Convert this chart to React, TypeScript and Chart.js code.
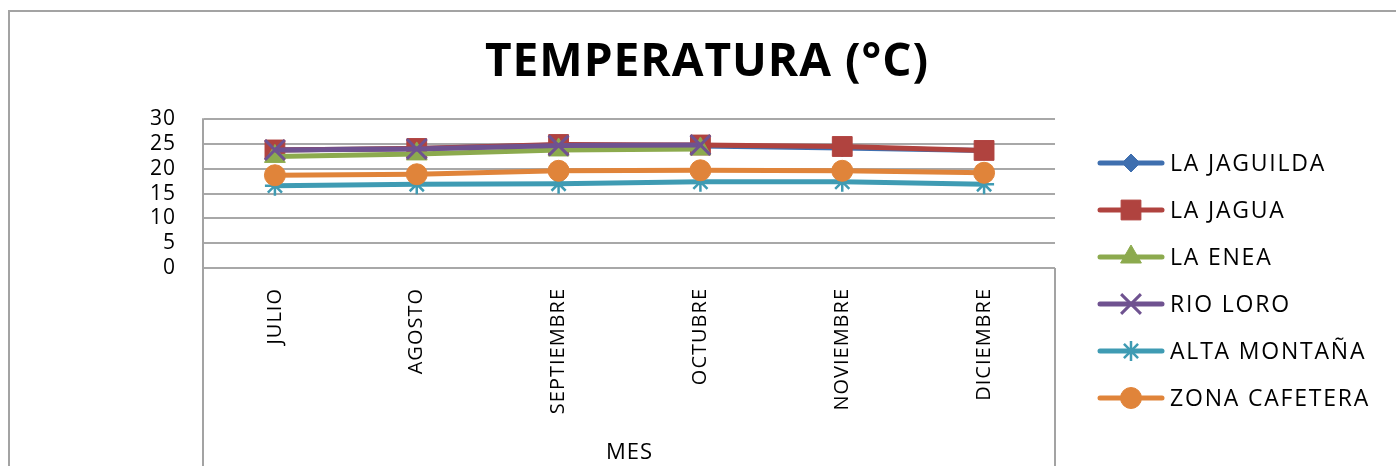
import React, { useEffect, useRef } from "react";
import { Chart, registerables } from "chart.js";
import { drawPoint } from "chart.js/helpers";

Chart.register(...registerables);

const categories = ["JULIO", "AGOSTO", "SEPTIEMBRE", "OCTUBRE", "NOVIEMBRE", "DICIEMBRE"];
const laJaguilda = [23.8, 24.1, 24.8, 24.6, 24.2, 23.7];
const laJagua = [23.8, 24.1, 24.9, 24.8, 24.5, 23.7];
const laEnea = [22.5, 23.0, 23.8, 24.0, null, null];
const rioLoro = [23.8, 24.0, 24.7, 24.8, null, null];
const altaMontana = [16.6, 16.9, 17.0, 17.4, 17.4, 16.9];
const zonaCafetera = [18.7, 18.9, 19.6, 19.7, 19.6, 19.2];
const seriesNames = ["LA JAGUILDA", "LA JAGUA", "LA ENEA", "RIO LORO", "ALTA MONTAÑA", "ZONA CAFETERA"];
const yTicks = [0, 5, 10, 15, 20, 25, 30];
const chartTitle = "TEMPERATURA (°C)";
const xTitle = "MES";

const colors = ["#3F6FAF", "#B0433F", "#8CAA4E", "#6F5290", "#3F9BB3", "#E0843A"];
const styles = ["rectRot", "rect", "triangle", "crossRot", "star", "circle"];
const radii = [9, 14, 12, 14, 10, 10.5];
const borderW = [1, 1, 1, 3, 2.5, 1];

const FONT = "'Open Sans', 'DejaVu Sans', sans-serif";

const spacingPlugin = {
  id: "spacing",
  beforeUpdate(chart: any) {
    chart.ctx.letterSpacing = "1px";
  },
  beforeLayout(chart: any) {
    chart.ctx.letterSpacing = "1px";
  },
  beforeDraw(chart: any) {
    chart.ctx.letterSpacing = "1px";
  },
};

const framePlugin = {
  id: "frame",
  afterDraw(chart: any) {
    const { ctx, chartArea, height, width } = chart;
    ctx.save();
    ctx.strokeStyle = "#A3A3A3";
    ctx.lineWidth = 2;
    // outer chart border
    ctx.beginPath();
    ctx.moveTo(9, height + 2);
    ctx.lineTo(9, 11);
    ctx.lineTo(width + 2, 11);
    ctx.stroke();
    // plot area border
    ctx.beginPath();
    ctx.moveTo(chartArea.left - 1, chartArea.top - 1);
    ctx.lineTo(chartArea.left - 1, height + 2);
    ctx.moveTo(chartArea.right, chartArea.bottom);
    ctx.lineTo(chartArea.right, height + 2);
    ctx.stroke();
    // legend
    const lx0 = 1100;
    const lx1 = 1162;
    const ly0 = 163;
    const step = 47;
    chart.data.datasets.forEach((ds: any, i: number) => {
      const y = ly0 + i * step;
      ctx.strokeStyle = ds.borderColor;
      ctx.lineWidth = 5;
      ctx.lineCap = "round";
      ctx.beginPath();
      ctx.moveTo(lx0, y);
      ctx.lineTo(lx1, y);
      ctx.stroke();
      ctx.fillStyle = ds.pointBackgroundColor;
      ctx.strokeStyle = ds.pointBorderColor;
      ctx.lineWidth = ds.pointBorderWidth;
      ctx.lineCap = "butt";
      drawPoint(ctx, { pointStyle: ds.pointStyle, radius: ds.pointRadius, rotation: 0, borderWidth: ds.pointBorderWidth } as any, (lx0 + lx1) / 2, y);
      ctx.fillStyle = "#000";
      ctx.font = `23px ${FONT}`;
      ctx.letterSpacing = "1.8px";
      ctx.textBaseline = "middle";
      ctx.textAlign = "left";
      ctx.fillText(ds.label, 1170, y + 1);
    });
    ctx.restore();
  },
};

export default function App() {
  const ref = useRef<HTMLCanvasElement>(null);
  useEffect(() => {
    const all = [laJaguilda, laJagua, laEnea, rioLoro, altaMontana, zonaCafetera];
    const chart = new Chart(ref.current!, {
      type: "line",
      data: {
        labels: categories,
        datasets: all.map((d, i) => ({
          label: seriesNames[i],
          data: d,
          borderColor: colors[i],
          backgroundColor: colors[i],
          borderWidth: 5,
          pointStyle: styles[i] as any,
          pointRadius: radii[i],
          pointHoverRadius: radii[i],
          pointBackgroundColor: colors[i],
          pointBorderColor: colors[i],
          pointBorderWidth: borderW[i],
          tension: 0,
          spanGaps: false,
          order: all.length - i,
          fill: false,
        })),
      },
      options: {
        animation: false,
        responsive: false,
        events: [],
        layout: { padding: { left: 18, right: 0, top: 0, bottom: 0 } },
        plugins: {
          legend: { display: false },
          tooltip: { enabled: false },
          title: {
            display: true,
            text: chartTitle,
            color: "#000",
            font: { family: FONT, size: 46, weight: "bold" },
            padding: { top: 35, bottom: 29 },
          },
        },
        scales: {
          x: {
            type: "category",
            offset: true,
            grid: { display: false, drawTicks: false },
            border: { display: false },
            ticks: {
              color: "#000",
              font: { family: FONT, size: 20 },
              minRotation: 90,
              maxRotation: 90,
              autoSkip: false,
              padding: 20,
            },
            title: {
              display: true,
              text: xTitle,
              color: "#000",
              font: { family: FONT, size: 22 },
              padding: { top: 0, bottom: 0 },
            },
            afterFit: (s: any) => {
              s.height = 198;
            },
          },
          y: {
            min: 0,
            max: 30,
            afterBuildTicks: (s: any) => {
              s.ticks = yTicks.map((v) => ({ value: v }));
            },
            grid: { color: "#A8A8A8", lineWidth: 2, drawTicks: false },
            border: { display: false },
            ticks: {
              color: "#000",
              font: { family: FONT, size: 21 },
              padding: 28,
              autoSkip: false,
            },
            afterFit: (s: any) => {
              s.width = 204 - 18;
            },
          },
          y2: {
            position: "right",
            display: true,
            grid: { display: false, drawTicks: false },
            border: { display: false },
            ticks: { display: false },
            afterFit: (s: any) => {
              s.width = 1396 - 1055;
            },
          },
        },
      },
      plugins: [spacingPlugin, framePlugin],
    });
    return () => chart.destroy();
  }, []);
  return (
    <div style={{ position: "fixed", left: 0, top: 0, width: 1396, height: 466, background: "#fff" }}>
      <canvas ref={ref} width={1396} height={466} style={{ width: 1396, height: 466, display: "block" }} />
    </div>
  );
}
